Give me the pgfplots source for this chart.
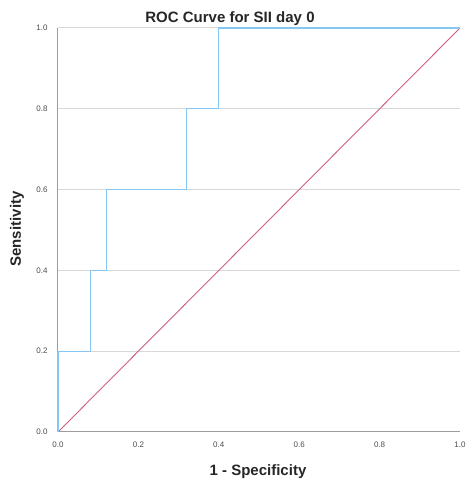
\documentclass[border=0pt]{standalone}
\usepackage{pgfplots}
\pgfplotsset{compat=1.18}
\usepackage{fontspec}
\setmainfont{Liberation Sans}
\definecolor{roc}{HTML}{86C6F2}
\definecolor{ref}{HTML}{CC5F7E}
\definecolor{gridc}{HTML}{D8D8D8}
\definecolor{axc}{HTML}{9C9C9C}
\begin{document}
\begin{tikzpicture}[x=1pt,y=1pt]
\useasboundingbox (-58,-55) rectangle (409,432);
\begin{axis}[
    at={(0,0)}, anchor=origin,
    scale only axis,
    width=402pt, height=404pt,
    xmin=0, xmax=1, ymin=0, ymax=1,
    clip=false,
    axis lines*=left,
    axis line style={draw=none},
    xtick={0,0.2,...,1}, ytick={0,0.2,...,1},
    major tick length=0pt,
    ymajorgrids,
    grid style={gridc, line width=1pt},
    tick label style={font=\fontsize{8}{9}\selectfont, text=black!70},
    xticklabel style={yshift=-6pt},
    yticklabel style={xshift=-7pt},
    /pgf/number format/.cd, fixed, fixed zerofill, precision=1, assume math mode=true,
]
% axis frame lines drawn under the curves
\draw[axc, line width=1pt] (rel axis cs:0,1) -- (rel axis cs:0,0) -- (rel axis cs:1,0);
\addplot[ref, line width=0.9pt] coordinates {(0,0) (1,1)};
\addplot[roc, line width=1.3pt] coordinates {
    (0,0) (0,0.2) (0.08,0.2) (0.08,0.4) (0.12,0.4) (0.12,0.6)
    (0.32,0.6) (0.32,0.8) (0.4,0.8) (0.4,1) (1,1)
};
\end{axis}
\node[font=\bfseries\fontsize{15}{17}\selectfont, text=black!85] at (172,413) {ROC Curve for SII day 0};
\node[font=\bfseries\fontsize{15}{17}\selectfont, text=black!85] at (200,-40) {1 - Specificity};
\node[font=\bfseries\fontsize{15}{17}\selectfont, text=black!85, rotate=90] at (-41,203) {Sensitivity};
\end{tikzpicture}
\end{document}
